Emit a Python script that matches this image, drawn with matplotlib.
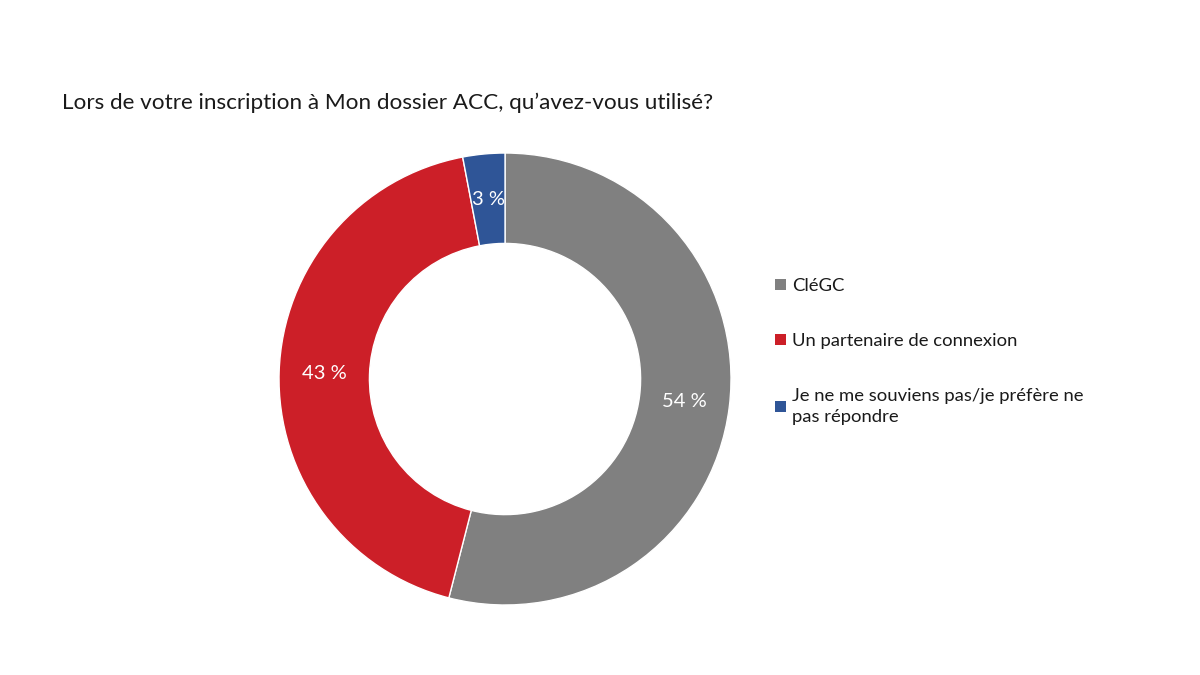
import matplotlib
matplotlib.use("Agg")
import matplotlib.pyplot as plt
from matplotlib.patches import Patch
import numpy as np

plt.rcParams['font.family'] = ['Lato', 'DejaVu Sans']

title = "Lors de votre inscription à Mon dossier ACC, qu’avez-vous utilisé?"
categories = ["CléGC", "Un partenaire de connexion",
              "Je ne me souviens pas/je préfère ne\npas répondre"]
values = [54, 43, 3]
labels = ["54 %", "43 %", "3 %"]
colors = ["#808080", "#CC1F28", "#2F5597"]

fig = plt.figure(figsize=(12, 6.75), dpi=100)
ax = fig.add_axes([0.2325, 0.1037, 0.3767, 0.6696])
wedges, _ = ax.pie(values, colors=colors, startangle=90, counterclock=False,
                   radius=1.0,
                   wedgeprops=dict(width=0.40, edgecolor="white", linewidth=1.0))
for w, lab in zip(wedges, labels):
    ang = np.deg2rad((w.theta1 + w.theta2) / 2)
    ax.text(0.8 * np.cos(ang), 0.8 * np.sin(ang), lab, ha="center", va="center",
            color="white", fontsize=14.5)
ax.set_xlim(-1, 1)
ax.set_ylim(-1, 1)
ax.set_aspect("equal")
ax.axis("off")

fig.text(62 / 1200, 1 - 103 / 675, title, fontsize=16.2, va="center", ha="left",
         color="#1a1a1a")

handles = [Patch(facecolor=c, edgecolor="none") for c in colors]
leg = fig.legend(handles, categories, loc="upper left",
                 bbox_to_anchor=(768 / 1200, 1 - 271 / 675), frameon=False,
                 fontsize=13.3, handlelength=0.55, handleheight=0.55,
                 handletextpad=0.35, labelspacing=2.1, borderaxespad=0)
for t in leg.get_texts():
    t.set_color("#1a1a1a")
    t.set_linespacing(1.4)

fig.savefig("out.png", dpi=100, facecolor="white")
